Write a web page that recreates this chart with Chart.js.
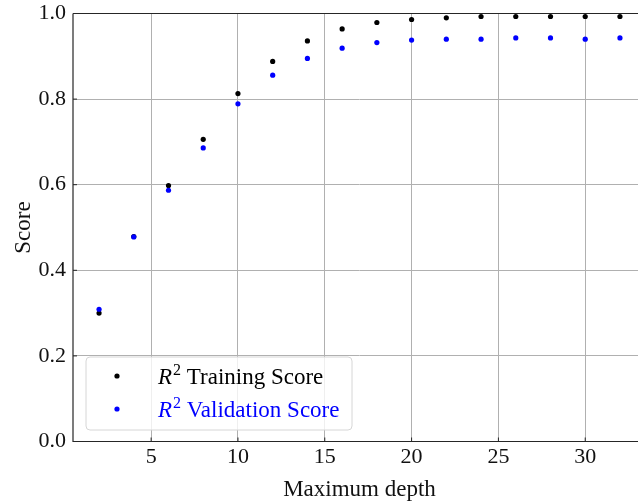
<!DOCTYPE html>
<html>
<head>
<meta charset="utf-8">
<script src="https://cdn.jsdelivr.net/npm/chart.js@4/dist/chart.umd.min.js"></script>
<style>
  html, body { margin:0; padding:0; background:#fff; overflow:hidden; }
  #wrap { width:650px; height:504px; }
</style>
</head>
<body>
<div id="wrap"><canvas id="chart" width="650" height="504"></canvas></div>
<script>
// ===== Data =====
const depths = [2,4,6,8,10,12,14,16,18,20,22,24,26,28,30,32];
const trainScore = [0.300,0.479,0.598,0.706,0.813,0.888,0.936,0.964,0.979,0.986,0.990,0.993,0.993,0.993,0.993,0.993];
const validScore = [0.309,0.478,0.587,0.686,0.789,0.856,0.895,0.919,0.932,0.938,0.940,0.940,0.943,0.943,0.940,0.943];
const xTicks = [5,10,15,20,25,30];
const yTicks = [0,0.2,0.4,0.6,0.8,1.0];

const FONT = "'Liberation Serif', 'Times New Roman', serif";
const toPts = ys => depths.map((d,i)=>({x:d, y:ys[i]}));

// ===== Spines, inward ticks, legend =====
const framePlugin = {
  id: "frame",
  afterDraw(chart){
    const {ctx, chartArea:a, scales:{x, y}} = chart;
    ctx.save();
    ctx.strokeStyle = "#262626"; ctx.lineWidth = 1.2;
    ctx.beginPath();
    ctx.moveTo(a.left, a.top); ctx.lineTo(a.left, a.bottom); ctx.lineTo(a.right, a.bottom);
    ctx.moveTo(a.left, a.top); ctx.lineTo(a.right, a.top);
    ctx.stroke();
    ctx.lineWidth = 1;
    ctx.beginPath();
    xTicks.forEach(v=>{ const px=x.getPixelForValue(v); ctx.moveTo(px,a.bottom); ctx.lineTo(px,a.bottom-4); });
    yTicks.forEach(v=>{ const py=y.getPixelForValue(v); ctx.moveTo(a.left,py); ctx.lineTo(a.left+4,py); });
    ctx.stroke();

    // legend box
    const bx=86, by=357, bw=266, bh=73, r=4;
    ctx.beginPath();
    ctx.moveTo(bx+r,by); ctx.arcTo(bx+bw,by,bx+bw,by+bh,r); ctx.arcTo(bx+bw,by+bh,bx,by+bh,r);
    ctx.arcTo(bx,by+bh,bx,by,r); ctx.arcTo(bx,by,bx+bw,by,r); ctx.closePath();
    ctx.fillStyle = "rgba(255,255,255,0.8)"; ctx.fill();
    ctx.strokeStyle = "#d6d6d6"; ctx.stroke();

    const rows = [
      {color:"#000000", text:" Training Score", y:384},
      {color:"#0000ff", text:" Validation Score", y:417}
    ];
    rows.forEach(row=>{
      ctx.fillStyle = row.color;
      ctx.beginPath(); ctx.arc(117, row.y-8, 2.6, 0, Math.PI*2); ctx.fill();
      ctx.textBaseline = "alphabetic"; ctx.textAlign = "left";
      let tx = 158;
      ctx.font = "italic 23px " + FONT; ctx.fillText("R", tx, row.y); tx += ctx.measureText("R").width + 1;
      ctx.font = "16px " + FONT; ctx.fillText("2", tx, row.y-9); tx += ctx.measureText("2").width;
      ctx.font = "23px " + FONT; ctx.fillText(row.text, tx, row.y);
    });
    ctx.restore();
  }
};

// ===== Chart =====
new Chart(document.getElementById("chart"), {
  type: "scatter",
  data: {
    datasets: [
      { label:"R² Training Score", data:toPts(trainScore), backgroundColor:"#000000", borderWidth:0, pointRadius:2.6, order:2 },
      { label:"R² Validation Score", data:toPts(validScore), backgroundColor:"#0000ff", borderWidth:0, pointRadius:2.6, order:1 }
    ]
  },
  options: {
    responsive:false, animation:false,
    layout:{ padding:{ top:13.5, right:2.4, left:0, bottom:0 } },
    plugins:{ legend:{display:false}, tooltip:{enabled:false} },
    scales:{
      x:{
        type:"linear", min:0.5, max:33.5,
        afterBuildTicks: s => { s.ticks = xTicks.map(v=>({value:v})); },
        afterFit: s => { s.height = 62.5; s.paddingLeft = 0; s.paddingRight = 0; },
        grid:{ color:"#b0b0b0", lineWidth:1, drawTicks:false },
        border:{ display:false },
        ticks:{ color:"#111", padding:3, font:{family:FONT, size:22} },
        title:{ display:true, text:"Maximum depth", color:"#111", padding:{top:0,bottom:0}, font:{family:FONT, size:23} }
      },
      y:{
        min:0, max:1,
        afterBuildTicks: s => { s.ticks = yTicks.map(v=>({value:v})); },
        afterFit: s => { s.width = 73; s.paddingTop = 0; s.paddingBottom = 0; },
        grid:{ color:"#b0b0b0", lineWidth:1, drawTicks:false },
        border:{ display:false },
        ticks:{ color:"#111", padding:7, font:{family:FONT, size:22}, callback: v => v.toFixed(1) },
        title:{ display:true, text:"Score", color:"#111", padding:{top:10,bottom:0}, font:{family:FONT, size:23} }
      }
    }
  },
  plugins:[framePlugin]
});
</script>
</body>
</html>
